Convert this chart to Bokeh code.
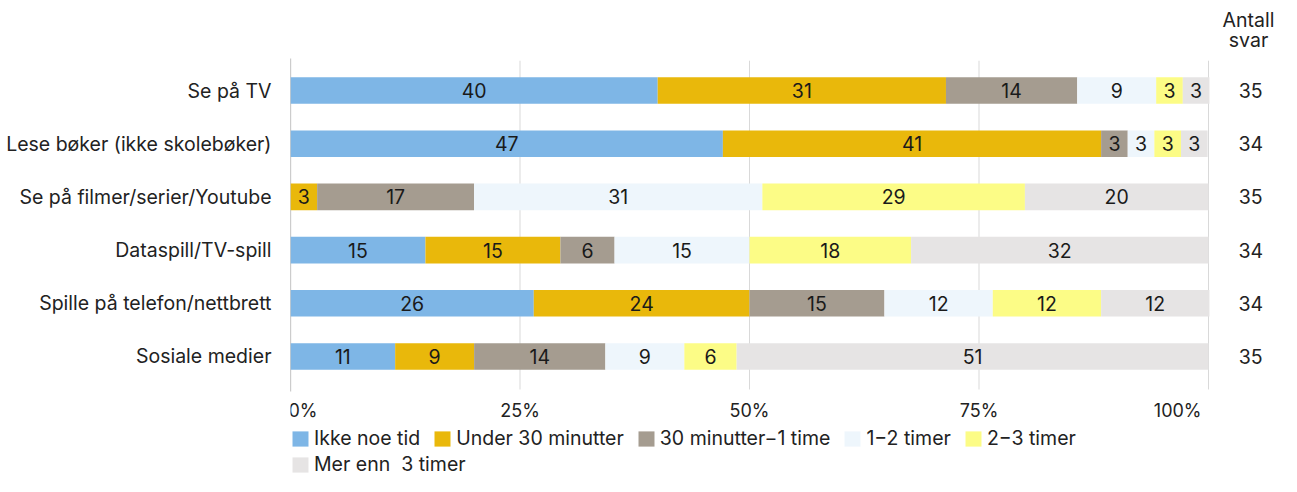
from bokeh.plotting import figure
from bokeh.models import ColumnDataSource, Range1d, FixedTicker, Legend, LegendItem
from bokeh.core.properties import value
from bokeh.embed import file_html
from bokeh.resources import INLINE

# ---------------- data ----------------
categories = ["Se på TV", "Lese bøker (ikke skolebøker)", "Se på filmer/serier/Youtube",
              "Dataspill/TV-spill", "Spille på telefon/nettbrett", "Sosiale medier"]
series = ["Ikke noe tid", "Under 30 minutter", "30 minutter\u22121 time",
          "1\u22122 timer", "2\u22123 timer", "Mer enn  3 timer"]
ikke_noe_tid = [40.0, 47.1, 0.0, 14.7, 26.5, 11.4]
under_30_min = [31.4, 41.2, 2.9, 14.7, 23.5, 8.6]
min30_1time = [14.3, 2.9, 17.1, 5.9, 14.7, 14.3]
timer_1_2 = [8.6, 2.9, 31.4, 14.7, 11.8, 8.6]
timer_2_3 = [2.9, 2.9, 28.6, 17.6, 11.8, 5.7]
mer_enn_3 = [2.9, 2.9, 20.0, 32.4, 11.8, 51.4]
antall_svar = [35, 34, 35, 34, 34, 35]
x_ticks = [0, 25, 50, 75, 100]
x_tick_labels = ["0%", "25%", "50%", "75%", "100%"]

colors = ["#7EB6E6", "#E9B80B", "#A59C90", "#EEF6FC", "#FCFC86", "#E6E4E4"]
values = [ikke_noe_tid, under_30_min, min30_1time, timer_1_2, timer_2_3, mer_enn_3]
keys = ["s%d" % i for i in range(len(series))]

FNAME = "Inter"
FONT = value(FNAME)
FS = "19.5px"
TICK_FS = "18px"
TXT = "#222222"

rows = list(range(len(categories)))
data = {"row": rows}
for k, v in zip(keys, values):
    data[k] = v
source = ColumnDataSource(data)

p = figure(width=1281, height=476,
           x_range=Range1d(0, 107.95), y_range=Range1d(7.256, -1.692),
           output_backend="svg", toolbar_location=None,
           x_axis_location=None,
           min_border_left=290, min_border_right=0,
           min_border_top=0, min_border_bottom=0)
p.outline_line_color = None
p.xgrid.visible = False
p.ygrid.visible = False

# grid lines and zero line
p.segment(x0=x_ticks[1:], x1=x_ticks[1:], y0=-0.56, y1=5.62, line_color="#D9D9D9", line_width=1)
p.segment(x0=x_ticks[:1], x1=x_ticks[:1], y0=-0.6, y1=5.66, line_color="#9A9A9A", line_width=1.2)

renderers = p.hbar_stack(keys, y="row", height=0.5, color=colors, line_color=None, source=source)

# labels inside bars
lx, ly, lt = [], [], []
for r in rows:
    cum = 0.0
    for v in values:
        val = v[r]
        if round(val) > 0:
            lx.append(cum + val / 2.0)
            ly.append(r)
            lt.append(str(round(val)))
        cum += val
p.text(x=lx, y=ly, text=lt, text_font=FONT, text_font_size=FS,
       text_align="center", text_baseline="middle", text_color="#1A1A1A")

# Antall svar column
p.text(x=[104.36, 104.36], y=[-1.32, -0.95], text=["Antall", "svar"], text_font=FONT,
       text_font_size=FS, text_align="center", text_baseline="middle", text_color=TXT)
p.text(x=[104.6] * len(rows), y=rows, text=[str(n) for n in antall_svar], text_font=FONT,
       text_font_size=FS, text_align="center", text_baseline="middle", text_color=TXT)

# x tick labels (edge labels aligned inward)
tick_y = 6.015
p.text(x=x_ticks[:1], y=[tick_y], text=x_tick_labels[:1], text_font=FONT, text_font_size=TICK_FS,
       text_align="left", text_baseline="middle", text_color=TXT, x_offset=-2)
p.text(x=x_ticks[1:-1], y=[tick_y] * 3, text=x_tick_labels[1:-1], text_font=FONT, text_font_size=TICK_FS,
       text_align="center", text_baseline="middle", text_color=TXT)
p.text(x=x_ticks[-1:], y=[tick_y], text=x_tick_labels[-1:], text_font=FONT, text_font_size=TICK_FS,
       text_align="right", text_baseline="middle", text_color=TXT, x_offset=-7)

# y axis with category names
p.yaxis.ticker = FixedTicker(ticks=rows)
p.yaxis.major_label_overrides = {r: c for r, c in zip(rows, categories)}
p.yaxis.axis_line_color = None
p.yaxis.major_tick_line_color = None
p.yaxis.minor_tick_line_color = None
p.yaxis.major_label_standoff = 13
p.yaxis.major_label_text_font = FNAME
p.yaxis.major_label_text_font_size = FS
p.yaxis.major_label_text_color = TXT

items = [LegendItem(label=s, renderers=[r]) for s, r in zip(series, renderers)]

def make_legend(its, loc):
    return Legend(items=its, location=loc, orientation="horizontal",
                  glyph_width=20, glyph_height=19, label_standoff=4, spacing=12,
                  padding=0, margin=0, border_line_color=None, background_fill_alpha=0,
                  label_text_font=FNAME, label_text_font_size=FS,
                  label_text_color=TXT, label_height=19)

p.add_layout(make_legend(items[:5], (0, 26)))
p.add_layout(make_legend(items[5:], (0, 0)))

open("out.html", "w").write(file_html(p, INLINE))
